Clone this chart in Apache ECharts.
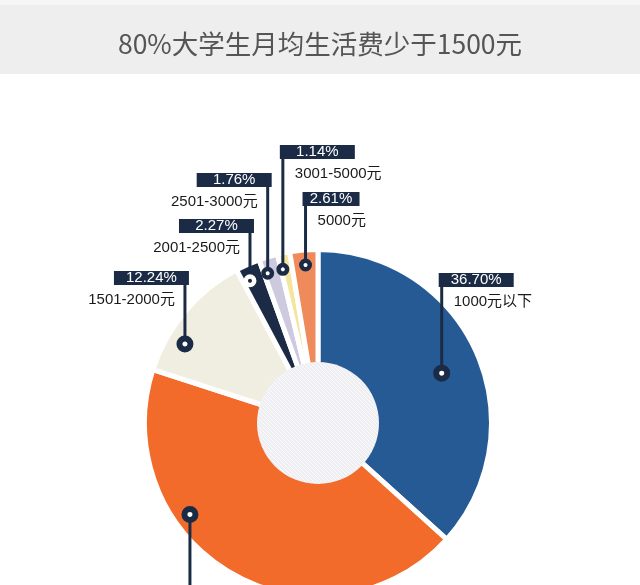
<!DOCTYPE html>
<html><head><meta charset="utf-8">
<script src="https://cdn.jsdelivr.net/npm/echarts@6/dist/echarts.min.js"></script>
<style>html,body{margin:0;padding:0;background:#fff}#c{width:640px;height:585px}</style>
</head><body><div id="c"></div>
<script>
// ---- data ----
const titleText = '80%大学生月均生活费少于1500元';
const categories = ['1000元以下', '1001-1500元', '1501-2000元', '2001-2500元', '2501-3000元', '3001-5000元', '5000元'];
const shares = [36.70, 43.28, 12.24, 2.27, 1.76, 1.14, 2.61];

// ---- layout / style ----
const colors = ['#265a95', '#f26b2b', '#efeee0', '#1c2b45', '#cdc9df', '#f4e59e', '#ef8a5b'];
const NAVY = '#1c2b45';
const CX = 318, CY = 423, R = 171;
const anchorPos = [0.515, 0.657, 0.29, 0.3, 0.2, 0.15, 0.52];
const anchorRad = [0.78, 0.92, 0.905, 0.922, 0.924, 0.922, 0.927];
const labelSide = ['right', 'left', 'left', 'left', 'left', 'right', 'right'];
const labelTop = [273, 600, 271, 219, 173, 145, 192];
const boxWidth = [75, 75, 75, 75, 75, 75, 57];
const bigDot = [true, true, true, false, false, false, false];

const total = shares.reduce((a, b) => a + b, 0);
const anchorAngle = [];
{
  let cum = 0;
  shares.forEach((v, i) => { anchorAngle.push(cum + v * anchorPos[i]); cum += v; });
}
function dotPx(i) {
  const t = anchorAngle[i] / total * Math.PI * 2;
  const r = anchorRad[i] * R;
  return [CX + r * Math.sin(t), CY - r * Math.cos(t)];
}
const pctText = shares.map(v => v.toFixed(2) + '%');

// striped pattern for the centre disc
const pc = document.createElement('canvas');
pc.width = 4; pc.height = 4;
const g = pc.getContext('2d');
g.fillStyle = '#efeef3'; g.fillRect(0, 0, 4, 4);
g.strokeStyle = 'rgba(255,255,255,0.75)'; g.lineWidth = 1;
[[-1, -1, 5, 5], [-1, 3, 1, 5], [3, -1, 5, 1]].forEach(l => { g.beginPath(); g.moveTo(l[0], l[1]); g.lineTo(l[2], l[3]); g.stroke(); });

const labelFont = '"Liberation Sans", "Noto Sans CJK SC", sans-serif';
const FS = 15;
const mctx = document.createElement('canvas').getContext('2d');
mctx.font = FS + 'px ' + labelFont;

const pieData = categories.map((name, i) => ({
  name: name,
  value: shares[i],
  itemStyle: { color: colors[i] }
}));

const labelData = categories.map((name, i) => {
  const right = labelSide[i] === 'right';
  const tw = mctx.measureText(pctText[i]).width;
  const pad = Math.max(0, (boxWidth[i] - tw) / 2);
  return {
    name: name,
    value: shares[i],
    label: {
      show: true,
      position: 'outside',
      overflow: 'none',
      fontFamily: labelFont,
      formatter: '{box|' + pctText[i] + '}\n{nm|' + name + '}',
      rich: {
        box: { height: 14, lineHeight: 14, backgroundColor: NAVY, color: '#ffffff', fontSize: FS,
               align: right ? 'left' : 'right', padding: [0, pad, 0, pad], fontFamily: labelFont },
        nm: { align: right ? 'left' : 'right', padding: right ? [0, 0, 0, 15] : [0, 14, 0, 0],
              lineHeight: 30, fontSize: FS, color: '#1a1a1a', fontFamily: labelFont }
      }
    }
  };
});

const dotData = shares.map((v, i) => ({
  value: [anchorRad[i], anchorAngle[i]],
  symbolSize: bigDot[i] ? 11 : 8.5,
  itemStyle: i === 3
    ? { color: NAVY, borderColor: '#ffffff', borderWidth: 4.5, opacity: 1 }
    : { color: '#ffffff', borderColor: NAVY, borderWidth: bigDot[i] ? 6 : 4.5, opacity: 1 }
}));

const chart = echarts.init(document.getElementById('c'), null, { renderer: 'canvas' });
chart.setOption({
  animation: false,
  backgroundColor: '#ffffff',
  graphic: [
    { type: 'rect', shape: { x: 0, y: 0, width: 640, height: 74 }, style: { fill: '#eeeeee' }, z: -10, silent: true },
    { type: 'rect', shape: { x: 0, y: 0, width: 640, height: 5 }, style: { fill: '#f5f5f5' }, z: -9, silent: true }
  ],
  title: {
    text: titleText, left: 'center', top: 31, padding: 0,
    textStyle: { fontSize: 26.5, color: '#555555', fontWeight: 'normal', fontFamily: '"Noto Sans CJK SC", sans-serif' }
  },
  polar: { center: [CX, CY], radius: R },
  angleAxis: { type: 'value', min: 0, max: total, startAngle: 90, clockwise: true, show: false },
  radiusAxis: { type: 'value', min: 0, max: 1, show: false },
  series: [
    {
      type: 'pie',
      z: 2,
      center: [CX, CY],
      radius: [0, R + 2.5],
      startAngle: 90,
      clockwise: true,
      silent: true,
      itemStyle: { borderColor: '#ffffff', borderWidth: 5 },
      label: { show: false },
      labelLine: { show: false },
      data: pieData
    },
    {
      type: 'pie',
      z: 3,
      center: [CX, CY],
      radius: [0, 61],
      silent: true,
      label: { show: false },
      labelLine: { show: false },
      itemStyle: { color: { image: pc, repeat: 'repeat' } },
      data: [{ value: 1, name: 'centre' }]
    },
    {
      type: 'pie',
      z: 4,
      center: [CX, CY],
      radius: [0, R],
      startAngle: 90,
      clockwise: true,
      avoidLabelOverlap: false,
      silent: true,
      itemStyle: { color: 'rgba(0,0,0,0)', borderWidth: 0 },
      label: { show: true, position: 'outside', overflow: 'none' },
      labelLine: { show: true, smooth: false, lineStyle: { color: NAVY, width: 3 } },
      labelLayout: function (p) {
        const i = p.dataIndex;
        const d = dotPx(i);
        const w = boxWidth[i];
        const right = labelSide[i] === 'right';
        const x = right ? d[0] - 3 : d[0] + 4;
        const top = labelTop[i];
        return {
          x: x, y: top, align: right ? 'left' : 'right', verticalAlign: 'top',
          labelLinePoints: [[d[0], d[1]], [d[0], top + 14], [d[0], top + 14]]
        };
      },
      data: labelData
    },
    {
      type: 'scatter',
      coordinateSystem: 'polar',
      symbol: 'circle',
      silent: true,
      z: 5,
      data: dotData
    }
  ]
});
</script>
</body></html>
